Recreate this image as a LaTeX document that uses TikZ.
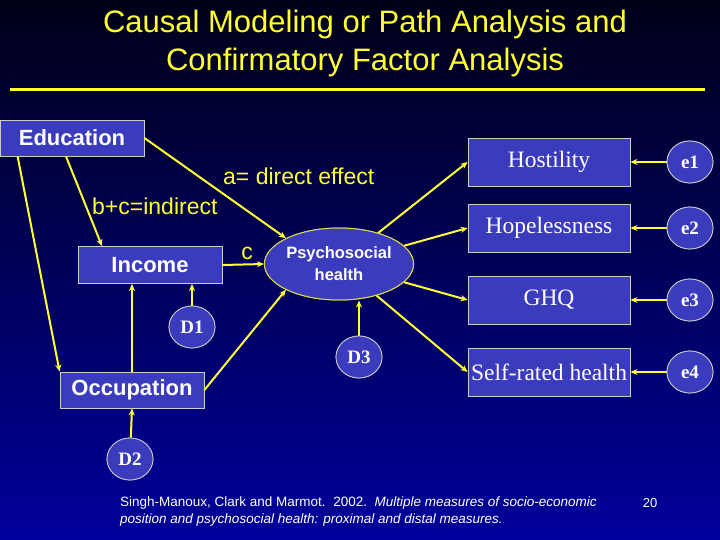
\documentclass[tikz,border=0pt]{standalone}
\usepackage{fontspec}
\setmainfont{Liberation Sans}
\newfontfamily\serifd{Liberation Serif}
\usetikzlibrary{shapes.geometric,arrows.meta}
\definecolor{boxblue}{HTML}{3B3BBE}
\definecolor{ylw}{HTML}{FFFF33}
\definecolor{bgtop}{HTML}{000018}
\definecolor{bgbot}{HTML}{00009C}
\begin{document}
\begin{tikzpicture}[x=1pt,y=-1pt,
  box/.style={draw=gray!40,line width=0.8pt,fill=boxblue,text=white,inner sep=0pt},
  lbox/.style={box,font=\bfseries\fontsize{22}{22}\selectfont},
  rbox/.style={box,font=\serifd\fontsize{23.5}{23.5}\selectfont,minimum width=162pt,minimum height=48pt},
  dis/.style={ellipse,draw=gray!40,line width=0.8pt,fill=boxblue,text=white,inner sep=0pt,minimum width=46pt,minimum height=42pt,font=\serifd\bfseries\fontsize{19}{19}\selectfont},
  psyst/.style={ellipse,draw=ylw!70!gray,line width=1pt,fill=boxblue,text=white,inner sep=0pt,minimum width=126pt,minimum height=72pt,align=center,font=\bfseries\fontsize{16.5}{22}\selectfont},
  arr/.style={draw=ylw,line width=2pt,-{Stealth[length=7pt,width=6pt]}},
  lab/.style={text=ylw,font=\fontsize{23}{23}\selectfont,inner sep=0pt}]
\shade[top color=bgtop,bottom color=bgbot] (0,0) rectangle (720,540);
\useasboundingbox (0,0) rectangle (720,540);
\node[text=ylw,font=\fontsize{31}{38}\selectfont,align=center] (title) at (365,43) {Causal Modeling or Path Analysis and\\Confirmatory Factor Analysis};
\coordinate (r1) at (10,90); \coordinate (r2) at (705,90);
\draw[ylw,line width=3pt] (r1) -- (r2);
\node[lbox,minimum width=144pt,minimum height=36pt] (edu) at (72,138) {Education};
\node[lbox,minimum width=144pt,minimum height=37pt] (inc) at (150,265) {Income};
\node[lbox,minimum width=144pt,minimum height=36pt] (occ) at (132,390) {Occupation};
\node[psyst] (psy) at (339,264) {Psychosocial\\health};
\node[dis] (d1) at (192,327) {D1};
\node[dis] (d2) at (130,459) {D2};
\node[dis] (d3) at (359,357) {D3};
\node[rbox] (h1) at (549,162) {Hostility};
\node[rbox] (h2) at (549,228) {Hopelessness};
\node[rbox] (h3) at (549,300) {GHQ};
\node[rbox] (h4) at (549,372) {Self-rated health};
\node[dis] (e1) at (690,162) {e1};
\node[dis] (e2) at (690,228) {e2};
\node[dis] (e3) at (690,300) {e3};
\node[dis] (e4) at (690,372) {e4};
\node[lab,anchor=west] (la) at (223,176) {a= direct effect};
\node[lab,anchor=west] (lb) at (92,206) {b+c=indirect};
\node[lab] (lc) at (247,253) {c};
\draw[arr] (edu.south west) ++(18,0) coordinate (ea) -- (occ.north west);
\draw[arr] ([xshift=-6pt]edu.south) -- ([xshift=-48pt]inc.north);
\draw[arr] (edu.east) -- (psy.north west);
\draw[arr] (inc.east) -- (psy.west);
\draw[arr] (occ.east) -- (psy.south west);
\draw[arr] (occ.north) -- (occ.north|-inc.south);
\draw[arr] (d1) -- (d1|-inc.south);
\draw[arr] (d2) -- (occ.south);
\draw[arr] (d3) -- (d3|-psy.south);
\foreach \i in {1,2,3,4}{
  \draw[arr] (psy) -- (h\i.west);
  \draw[arr] (e\i) -- (h\i.east);
}
\node[dis] at (d1) {D1};\node[dis] at (d2) {D2};\node[dis] at (d3) {D3};
\node[psyst] at (psy) {Psychosocial\\health};
\foreach \i in {1,2,3,4}{\node[dis] at (e\i) {e\i};}
\node[text=white,anchor=north west,align=left,font=\fontsize{13.5}{17}\selectfont,inner sep=0pt] (ref) at (120,497) {Singh-Manoux, Clark and Marmot.\ \ 2002.\ \ \itshape Multiple measures of socio-economic\\\itshape position and psychosocial health: proximal and distal measures.};
\node[text=white,font=\fontsize{13}{13}\selectfont] (pg) at (650,503) {20};
\end{tikzpicture}
\end{document}
